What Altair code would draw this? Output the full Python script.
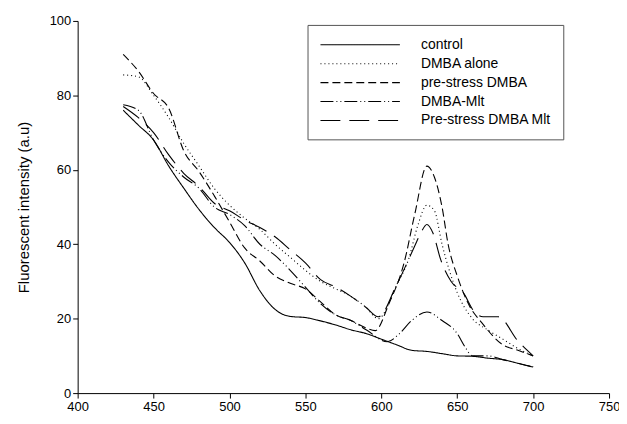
import altair as alt
import pandas as pd

series_names = ["control", "DMBA alone", "pre-stress DMBA", "DMBA-Mlt", "Pre-stress DMBA Mlt"]

control_x = [430, 440, 450, 460, 470, 480, 490, 500, 510, 520, 530, 540, 550, 560, 570, 580, 590, 600, 610, 620, 630, 640, 650, 660, 670, 680, 690, 700]
control_y = [76, 72, 68, 61, 55, 49.3, 44.5, 40.5, 35, 27.5, 22.5, 20.6, 20.3, 19.4, 18.3, 17, 16, 14.5, 13, 11.5, 11.2, 10.6, 10, 9.9, 9.4, 9, 8, 7]

dmba_x = [430, 440, 450, 460, 470, 480, 490, 500, 510, 520, 530, 540, 550, 560, 570, 580, 590, 598, 610, 618, 624, 630, 635, 640, 650, 660, 670, 680, 690, 700]
dmba_y = [85.5, 85, 80, 74, 67, 61, 55, 50.5, 47, 44, 40, 36.5, 33, 30, 28, 26, 23, 20, 29, 36, 45, 50.5, 49, 40, 27, 20, 17, 14.5, 12, 10]

pre_x = [430, 440, 450, 460, 470, 480, 490, 500, 510, 520, 530, 540, 550, 560, 570, 580, 590, 596, 605, 615, 622, 630, 635, 640, 644, 650, 658, 666, 680, 690, 700]
pre_y = [91, 86.5, 80.5, 76.5, 65, 59.5, 53, 46, 39, 35.5, 31.5, 29.5, 28, 24.5, 21, 19.5, 17.5, 16.8, 24, 35, 48, 61, 58, 50, 40, 31.5, 23.5, 19, 13, 11.5, 10]

mlt_x = [430, 440, 450, 460, 470, 480, 490, 500, 510, 520, 530, 540, 550, 560, 570, 580, 590, 604, 612, 620, 630, 640, 650, 655, 660, 670, 680, 690, 700]
mlt_y = [77.5, 76, 68, 62, 58, 55, 50, 48, 45, 40, 37, 33, 28.5, 24, 21, 19.5, 17, 13.8, 16, 19.5, 21.8, 19.5, 16, 12.5, 10, 10, 9, 8, 7]

premlt_x = [430, 440, 450, 460, 470, 480, 490, 500, 510, 520, 530, 540, 550, 560, 570, 580, 590, 598, 610, 622, 626, 630, 634, 639, 646, 654, 661, 667, 677, 690, 700]
premlt_y = [77, 74, 70, 64, 59, 55.5, 51, 49, 46.5, 44.5, 42, 38.5, 35, 30.5, 28.5, 26, 23, 20.5, 29, 39.5, 43, 45.3, 43, 36, 30, 27, 22, 20.5, 20.5, 14, 10]

dashes = [[1, 0], [1, 3], [8, 4], [13, 3, 1, 3, 1, 3], [20, 9]]

rows = []
for name, xs, ys in zip(series_names,
                        [control_x, dmba_x, pre_x, mlt_x, premlt_x],
                        [control_y, dmba_y, pre_y, mlt_y, premlt_y]):
    for xv, yv in zip(xs, ys):
        rows.append({"series": name, "wavelength": xv, "intensity": yv})
df = pd.DataFrame(rows)

x_ticks = [400, 450, 500, 550, 600, 650, 700, 750]
y_ticks = [0, 20, 40, 60, 80, 100]

chart = alt.Chart(df).mark_line(interpolate="monotone", strokeWidth=1.1, color="black").encode(
    x=alt.X("wavelength:Q", scale=alt.Scale(domain=[400, 750], nice=False),
            axis=alt.Axis(values=x_ticks, title=None, grid=False, labelFlush=False)),
    y=alt.Y("intensity:Q", scale=alt.Scale(domain=[0, 100], nice=False),
            axis=alt.Axis(values=y_ticks, title="Fluorescent intensity (a.u)", grid=False)),
    strokeDash=alt.StrokeDash("series:N",
                              scale=alt.Scale(domain=series_names, range=dashes),
                              legend=alt.Legend(
                                  title=None, orient="none", legendX=231, legendY=4,
                                  symbolType="M-1,0H10.4", symbolSize=196,
                                  symbolStrokeColor="black", symbolStrokeWidth=1.1,
                                  labelOffset=86, labelFontSize=14, labelFont="Liberation Sans",
                                  labelColor="black", rowPadding=4,
                                  strokeColor="#555555", padding=12, cornerRadius=0,
                                  labelLimit=300)),
    detail="series:N",
).properties(
    width=534, height=374,
    autosize=alt.AutoSizeParams(type="none"),
    padding={"left": 70, "top": 12, "right": 10, "bottom": 19},
).configure_view(stroke=None).configure_axis(
    domainColor="black", tickColor="black", tickSize=5, labelFontSize=13,
    labelFont="Liberation Sans", labelColor="black", titleFont="Liberation Sans",
    titleFontSize=15, titleFontWeight="normal", titleColor="black", titlePadding=18,
    domainWidth=1, tickWidth=1,
)

chart.save("out.html", embed_options={"renderer": "svg", "actions": False})
